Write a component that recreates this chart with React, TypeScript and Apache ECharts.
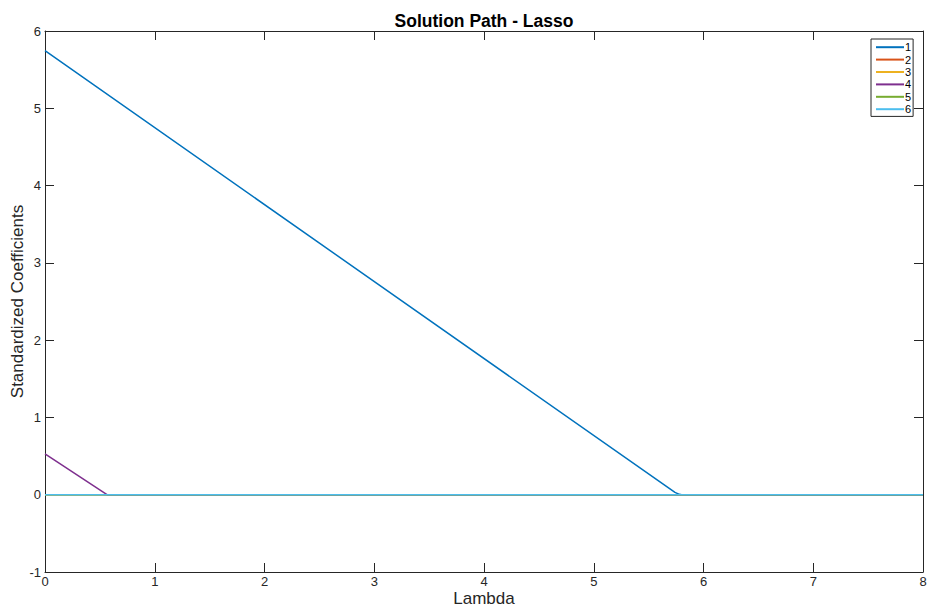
import React, { useEffect, useRef } from "react";
import * as echarts from "echarts";

const seriesNames = ["1", "2", "3", "4", "5", "6"];
const seriesColors = ["#0072BD", "#D95319", "#EDB120", "#7E2F8E", "#77AC30", "#4DBEEE"];
// [lambda, coefficient]
const path1: [number, number][] = [[0, 5.745], [5.74, 0.03], [5.78, 0.005], [5.8, 0], [8, 0]];
const path2: [number, number][] = [[0, 0], [8, 0]];
const path3: [number, number][] = [[0, 0], [8, 0]];
const path4: [number, number][] = [[0, 0.53], [0.565, 0], [8, 0]];
const path5: [number, number][] = [[0, 0], [8, 0]];
const path6: [number, number][] = [[0, 0], [8, 0]];
const paths = [path1, path2, path3, path4, path5, path6];
const xTicks = { min: 0, max: 8, interval: 1 };
const yTicks = { min: -1, max: 6, interval: 1 };

const FONT = "'Liberation Sans', Arial, Helvetica, sans-serif";
const AX = "#262626";

export default function App() {
  const ref = useRef<HTMLDivElement>(null);
  useEffect(() => {
    if (!ref.current) return;
    const chart = echarts.init(ref.current, undefined, { renderer: "svg" });
    const axisCommon = {
      axisLine: { show: true, onZero: false, lineStyle: { color: AX, width: 1 } },
      axisTick: { show: true, inside: true, length: 9, lineStyle: { color: AX, width: 1 } },
      splitLine: { show: false },
    };
    chart.setOption({
      animation: false,
      backgroundColor: "#ffffff",
      textStyle: { fontFamily: FONT },
      title: {
        text: "Solution Path - Lasso",
        left: 479,
        textAlign: "center",
        top: 7,
        textStyle: { fontFamily: FONT, fontSize: 17.5, fontWeight: "bold", color: "#000" },
      },
      legend: {
        orient: "vertical",
        left: 871,
        top: 39,
        padding: [2, 2, 1, 5],
        itemGap: 0,
        itemWidth: 28,
        itemHeight: 2,
        icon: "rect",
        borderColor: AX,
        borderWidth: 1,
        backgroundColor: "#fff",
        textStyle: { fontFamily: FONT, fontSize: 11, color: "#000", lineHeight: 12.4, padding: [0, 0, 0, -4] },
        data: seriesNames,
      },
      grid: { left: 45, top: 31, right: 7, bottom: 39, containLabel: false, outerBoundsMode: "none" },
      xAxis: [
        {
          type: "value",
          ...xTicks,
          position: "bottom",
          name: "Lambda",
          nameLocation: "middle",
          nameGap: 18,
          nameMoveOverlap: false,
          nameTextStyle: { fontFamily: FONT, fontSize: 17, color: "#262626" },
          axisLabel: { fontFamily: FONT, fontSize: 13, color: "#262626", margin: 3 },
          ...axisCommon,
        },
        {
          type: "value",
          ...xTicks,
          position: "top",
          axisLabel: { show: false },
          ...axisCommon,
        },
      ],
      yAxis: [
        {
          type: "value",
          ...yTicks,
          position: "left",
          name: "Standardized Coefficients",
          nameLocation: "middle",
          nameGap: 19,
          nameMoveOverlap: false,
          nameTextStyle: { fontFamily: FONT, fontSize: 17, color: "#262626" },
          axisLabel: { fontFamily: FONT, fontSize: 13, color: "#262626", margin: 4 },
          ...axisCommon,
        },
        {
          type: "value",
          ...yTicks,
          position: "right",
          axisLabel: { show: false },
          ...axisCommon,
        },
      ],
      series: paths.map((d, i) => ({
        name: seriesNames[i],
        type: "line",
        data: d,
        xAxisIndex: 0,
        yAxisIndex: 0,
        showSymbol: false,
        symbol: "none",
        lineStyle: { color: seriesColors[i], width: 1.5 },
        itemStyle: { color: seriesColors[i] },
        z: 2 + i,
      })),
    });
    return () => chart.dispose();
  }, []);
  return <div ref={ref} style={{ width: 930, height: 611, position: "absolute", left: 0, top: 0 }} />;
}
